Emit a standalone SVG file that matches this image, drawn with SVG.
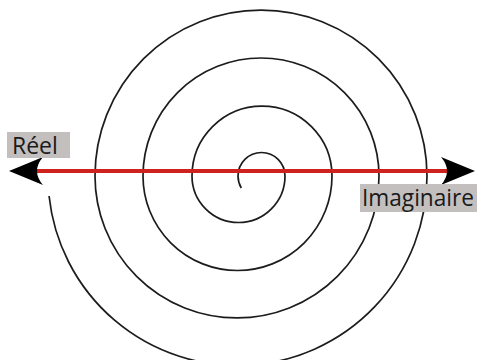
<svg xmlns="http://www.w3.org/2000/svg" width="477" height="360" viewBox="0 0 477 360">
  <defs>
    <marker id="arrow" viewBox="0 0 34 28" refX="6" refY="14" markerWidth="34" markerHeight="28" markerUnits="userSpaceOnUse" orient="auto-start-reverse">
      <path d="M0,0 L34,14 L0,28 Q6,21 6,14 Q6,7 0,0 Z" fill="#000"/>
    </marker>
  </defs>
  <style>
    .spiral { fill: none; stroke: #1c1c1c; stroke-width: 1.7; }
    .axis { stroke: #d0221d; stroke-width: 4; fill: none; }
    .box { fill: #c3bfbf; }
    .lbl { font-family: "Open Sans", "Liberation Sans", sans-serif; font-size: 23px; fill: #1a1a1a; }
  </style>
  <rect width="477" height="360" fill="#fff"/>
  <g id="spiral">
    <path class="spiral" d="M241.3,188 A23.5,23.5 0 0 1 238,176 A23.5,23.5 0 0 1 285,176 A46.5,46.5 0 0 1 192,176 A70,70 0 0 1 332,176 A94.5,94.5 0 0 1 143,176 A118,118 0 0 1 379,176 A142,142 0 0 1 95,176 A166,166 0 0 1 427,176 A189.5,189.5 0 0 1 49.06,196"/>
  </g>
  <g id="connectors">
    <line class="axis" x1="37" y1="171" x2="447" y2="171" marker-start="url(#arrow)" marker-end="url(#arrow)"/>
  </g>
  <g id="label-reel">
    <rect class="box" x="7" y="132" width="63" height="26"/>
    <text class="lbl" x="12" y="154">Réel</text>
  </g>
  <g id="label-imaginaire">
    <rect class="box" x="360" y="184" width="117" height="28"/>
    <text class="lbl" x="362" y="206" textLength="112" lengthAdjust="spacingAndGlyphs">Imaginaire</text>
  </g>
</svg>
